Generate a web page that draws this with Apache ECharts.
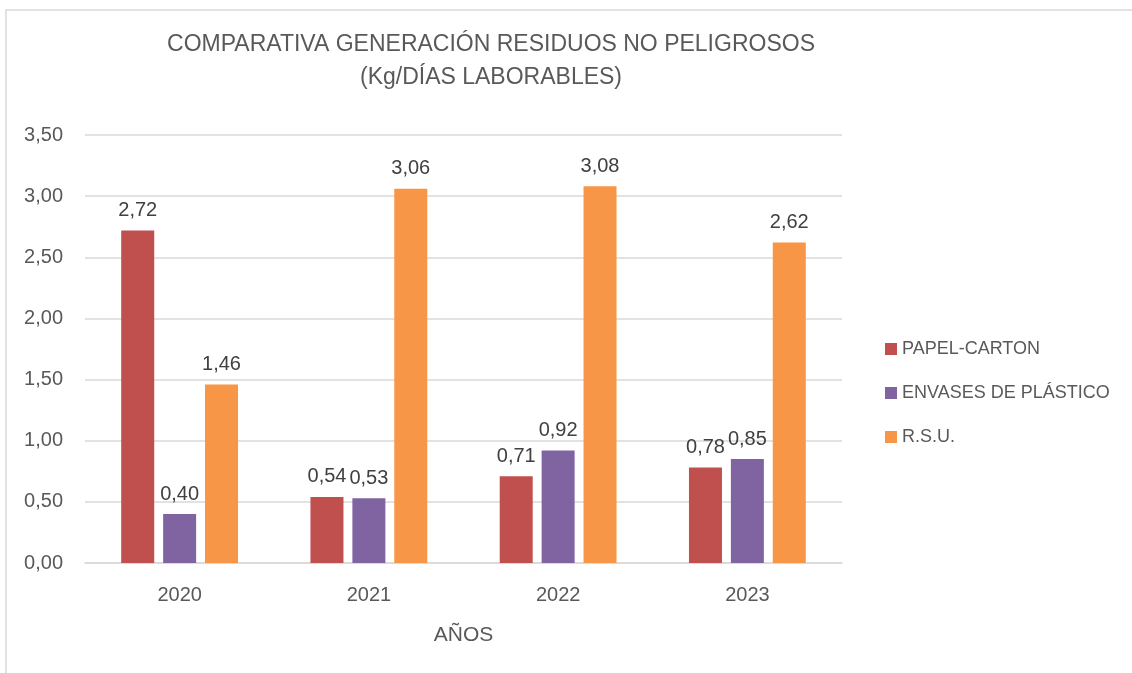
<!DOCTYPE html>
<html>
<head>
<meta charset="utf-8">
<script src="https://cdn.jsdelivr.net/npm/echarts@6/dist/echarts.min.js"></script>
<style>
  html, body { margin: 0; padding: 0; background: #fff; }
  #main { width: 1132px; height: 673px; }
</style>
</head>
<body>
<div id="main"></div>
<script>
var years = ['2020', '2021', '2022', '2023'];
var papelCarton = [2.72, 0.54, 0.71, 0.78];
var envasesPlastico = [0.40, 0.53, 0.92, 0.85];
var rsu = [1.46, 3.06, 3.08, 2.62];
var seriesNames = ['PAPEL-CARTON', 'ENVASES DE PLÁSTICO', 'R.S.U.'];
var colors = ['#C0504D', '#8064A2', '#F79646'];

var font = 'Liberation Sans';
var chartDom = document.getElementById('main');
var myChart = echarts.init(chartDom);

function coma(v) {
    return Number(v).toFixed(2).replace('.', ',');
}

function barSerie(name, data, color) {
    return {
        name: name,
        type: 'bar',
        data: data,
        barWidth: 33,
        barGap: '27%',
        itemStyle: { color: color },
        label: {
            show: true,
            position: 'top',
            distance: 10,
            color: '#404040',
            fontFamily: font,
            fontSize: 20,
            formatter: function (p) { return coma(p.value); }
        }
    };
}

var option = {
    animation: false,
    color: colors,
    title: {
        text: 'COMPARATIVA GENERACIÓN RESIDUOS NO PELIGROSOS\n(Kg/DÍAS LABORABLES)',
        left: 491,
        top: 28,
        padding: 0,
        textAlign: 'center',
        textStyle: {
            color: '#595959',
            fontFamily: font,
            fontSize: 23,
            fontWeight: 'normal',
            lineHeight: 33
        }
    },
    graphic: [{
        type: 'polyline',
        shape: { points: [[6, 673], [6, 10], [1132, 10]] },
        style: { stroke: '#d9d9d9', lineWidth: 1.5, fill: null }
    }],
    legend: {
        orient: 'vertical',
        left: 880,
        top: 335,
        itemGap: 26,
        itemWidth: 12,
        itemHeight: 12,
        icon: 'rect',
        textStyle: { color: '#595959', fontFamily: font, fontSize: 18 },
        data: seriesNames
    },
    grid: {
        left: 85,
        right: 290,
        top: 135,
        bottom: 110
    },
    xAxis: {
        type: 'category',
        data: years,
        name: 'AÑOS',
        nameLocation: 'middle',
        nameGap: 62,
        nameTextStyle: { color: '#595959', fontFamily: font, fontSize: 21 },
        axisLine: { lineStyle: { color: '#d9d9d9', width: 1.5 } },
        axisTick: { show: false },
        axisLabel: { color: '#595959', fontFamily: font, fontSize: 20, margin: 22 }
    },
    yAxis: {
        type: 'value',
        min: 0,
        max: 3.5,
        interval: 0.5,
        axisLine: { show: false },
        axisTick: { show: false },
        splitLine: { lineStyle: { color: '#d9d9d9', width: 1.5 } },
        axisLabel: {
            color: '#595959',
            fontFamily: font,
            fontSize: 20,
            margin: 22,
            formatter: coma
        }
    },
    series: [
        barSerie(seriesNames[0], papelCarton, colors[0]),
        barSerie(seriesNames[1], envasesPlastico, colors[1]),
        barSerie(seriesNames[2], rsu, colors[2])
    ]
};

myChart.setOption(option);
</script>
</body>
</html>
